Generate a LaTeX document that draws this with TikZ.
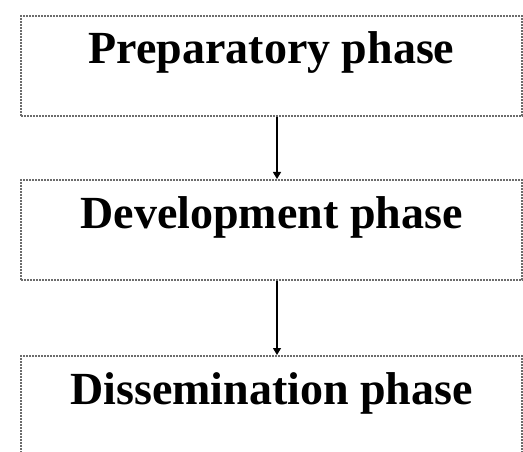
\documentclass[tikz,border=0pt]{standalone}
\usepackage{fontspec}
\setmainfont{Liberation Serif}
\usetikzlibrary{arrows.meta}
\begin{document}
\begin{tikzpicture}[x=1pt,y=-1pt,
  phasebox/.style={draw=gray!85!black, line width=2pt, densely dotted,
    rectangle, inner sep=0pt, anchor=north west, minimum width=501pt,
    text height=48pt, text depth=52pt,
    font=\fontsize{46}{50}\selectfont\bfseries},
  flow/.style={draw=black, line width=1.1pt, -{Triangle[length=7pt,width=8pt]}}]
\useasboundingbox (0,0) rectangle (523,452);
\clip (0,0) rectangle (523,452);
\node[phasebox] (prep) at (20,15) {Preparatory phase};
\node[phasebox] (dev) at (20,179) {Development phase};
\node[phasebox] (diss) at (20,355) {Dissemination phase};
\draw[flow] (prep.south -| 277,0) -- (dev.north -| 277,0);
\draw[flow] (dev.south -| 277,0) -- (diss.north -| 277,0);
\end{tikzpicture}
\end{document}
